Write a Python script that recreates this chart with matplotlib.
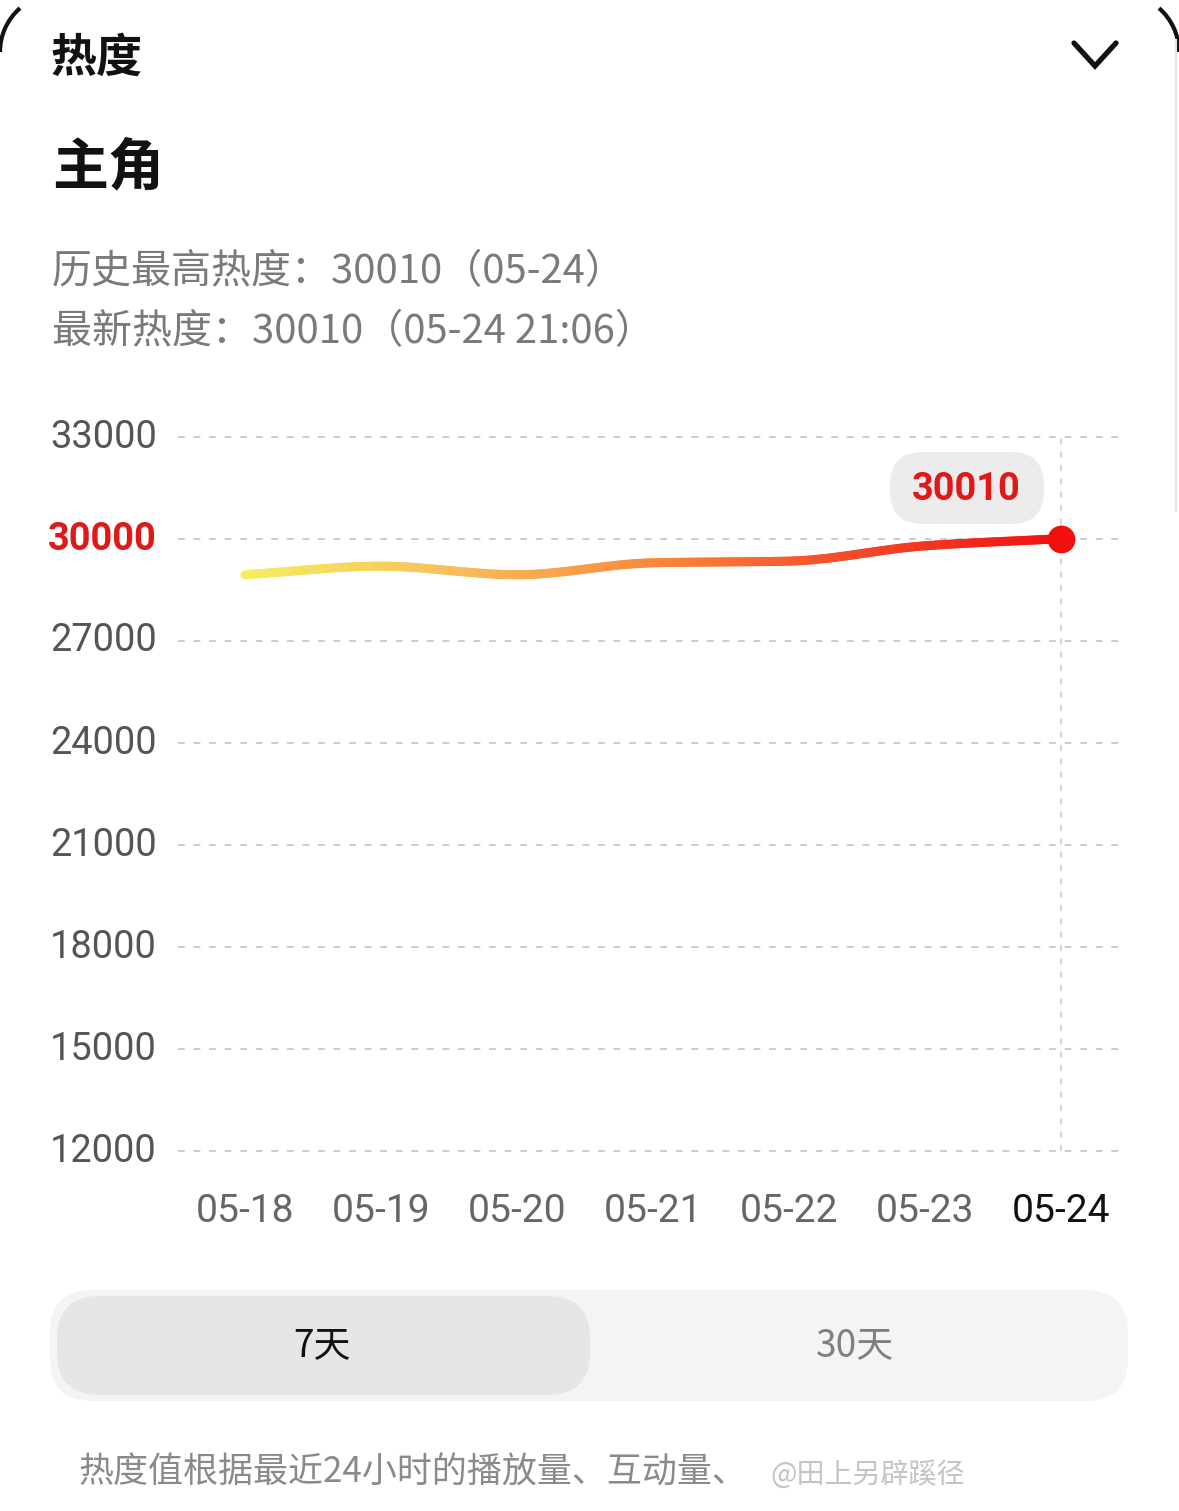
import numpy as np
import matplotlib
matplotlib.use('Agg')
import matplotlib.pyplot as plt
from matplotlib.collections import LineCollection
from matplotlib.colors import LinearSegmentedColormap
from matplotlib.patches import FancyBboxPatch, Arc

plt.rcParams['font.family'] = ['Noto Sans CJK SC', 'DejaVu Sans']

# data
dates = ['05-18', '05-19', '05-20', '05-21', '05-22', '05-23', '05-24']
heat = [28950, 29200, 28950, 29300, 29350, 29800, 30010]
y_ticks = [12000, 15000, 18000, 21000, 24000, 27000, 30000, 33000]
peak_value = 30010

W, H = 1179, 1511
CJK = ['Noto Sans CJK SC', 'DejaVu Sans']
NUM = ['Roboto', 'DejaVu Sans']


def fx(x):
    return x / W


def fy(y):
    return 1 - y / H


def pt(px):
    return px * 0.72


def monotone_curve(xs, ys, n=40):
    # Fritsch-Carlson monotone cubic, only for drawing a smooth line
    xs = np.asarray(xs, float)
    ys = np.asarray(ys, float)
    h = np.diff(xs)
    d = np.diff(ys) / h
    m = np.zeros_like(ys)
    m[0], m[-1] = d[0], d[-1]
    for i in range(1, len(ys) - 1):
        if d[i - 1] * d[i] > 0:
            m[i] = 2 / (1 / d[i - 1] + 1 / d[i])
    out_x, out_y = [], []
    for i in range(len(h)):
        t = np.linspace(0, 1, n, endpoint=False)
        h00 = 2 * t**3 - 3 * t**2 + 1
        h10 = t**3 - 2 * t**2 + t
        h01 = -2 * t**3 + 3 * t**2
        h11 = t**3 - t**2
        out_x.append(xs[i] + t * h[i])
        out_y.append(h00 * ys[i] + h10 * h[i] * m[i] + h01 * ys[i + 1] + h11 * h[i] * m[i + 1])
    out_x.append([xs[-1]])
    out_y.append([ys[-1]])
    return np.concatenate(out_x), np.concatenate(out_y)


fig = plt.figure(figsize=(W / 100, H / 100), dpi=100)
fig.patch.set_facecolor('white')

# phone card corners
for cx, t1, t2 in [(58, 138, 180), (W - 58, 0, 42)]:
    fig.patches.append(Arc((fx(cx), fy(52)), 116 / W, 116 / H, theta1=t1, theta2=t2,
                           transform=fig.transFigure, color='#111111', lw=3))
fig.lines.append(plt.Line2D([fx(1176), fx(1176)], [fy(40), fy(510)], transform=fig.transFigure,
                            color='#e4e4e4', lw=1.5))

# header
fig.text(fx(50), fy(58), '热度', fontsize=pt(46), fontweight='bold', color='#111111',
         family=CJK, va='center', ha='left')
fig.lines.append(plt.Line2D([fx(1074), fx(1095), fx(1116)], [fy(43), fy(66), fy(43)],
                            transform=fig.transFigure, color='#111111', lw=3.8,
                            solid_capstyle='round', solid_joinstyle='miter'))
fig.text(fx(52), fy(168), '主角', fontsize=pt(56), fontweight='bold', color='#111111',
         family=CJK, va='center', ha='left')
fig.text(fx(52), fy(272), f'历史最高热度：{peak_value}（{dates[-1]}）', fontsize=pt(40),
         color='#7a7a7a', family=CJK, va='center', ha='left')
fig.text(fx(52), fy(332), f'最新热度：{peak_value}（{dates[-1]} 21:06）', fontsize=pt(40),
         color='#7a7a7a', family=CJK, va='center', ha='left')

# chart
ax = fig.add_axes([fx(178), fy(1151), (1125 - 178) / W, (1151 - 437) / H])
x = np.arange(len(dates))
x0 = (178 - 245) / 136
x1 = (1125 - 245) / 136
ax.set_xlim(x0, x1)
ax.set_ylim(y_ticks[0], y_ticks[-1])
for s in ax.spines.values():
    s.set_visible(False)
ax.set_xticks(x)
ax.set_yticks(y_ticks)
ax.tick_params(length=0)
ax.set_xticklabels([])
ax.set_yticklabels([])
for yv in y_ticks:
    ax.axhline(yv, color='#cccccc', lw=1.4, dashes=(3.5, 4.5), zorder=1, clip_on=False)
ax.axvline(x[-1], color='#cccccc', lw=1.2, dashes=(3.5, 4.5), zorder=1)

sx, sy = monotone_curve(x, heat)
pts = np.column_stack([sx, sy]).reshape(-1, 1, 2)
segs = np.concatenate([pts[:-1], pts[1:]], axis=1)
cmap = LinearSegmentedColormap.from_list('heat', ['#f6ee5e', '#f8c05a', '#f98a3c', '#f44a28', '#f01212'])
lc = LineCollection(segs, cmap=cmap, linewidth=6.5, capstyle='round', zorder=3)
lc.set_array((sx[:-1] - x[0]) / (x[-1] - x[0]))
ax.add_collection(lc)
ax.plot(x[-1], heat[-1], 'o', ms=19, color='#f01010', zorder=4)

# value badge
fig.patches.append(FancyBboxPatch((fx(890), fy(524)), (1044 - 890) / W, (524 - 452) / H,
                                  boxstyle='round,pad=0,rounding_size=0.028',
                                  transform=fig.transFigure, facecolor='#ececec',
                                  edgecolor='none', mutation_aspect=W / H))
fig.text(fx(966), fy(489), str(peak_value), fontsize=pt(38), fontweight='bold',
         color='#e01818', family=NUM, ha='center', va='center')

# axis labels in screen positions
for yv in y_ticks:
    ypx = 1151 - (yv - y_ticks[0]) / 3000 * 102
    red = yv == 30000
    fig.text(fx(157), fy(ypx), str(yv), fontsize=pt(38), color='#e01818' if red else '#555555',
             fontweight='bold' if red else 'normal', family=NUM, ha='right', va='center')
for i, d in enumerate(dates):
    xpx = 245 + i * 136
    last = i == len(dates) - 1
    fig.text(fx(xpx), fy(1211), d, fontsize=pt(39), color='#111111' if last else '#666666',
             family=NUM, ha='center', va='center')

# range toggle
fig.patches.append(FancyBboxPatch((fx(50), fy(1401)), (1128 - 50) / W, (1401 - 1290) / H,
                                  boxstyle='round,pad=0,rounding_size=0.036',
                                  transform=fig.transFigure, facecolor='#f4f4f4',
                                  edgecolor='none', mutation_aspect=W / H))
fig.patches.append(FancyBboxPatch((fx(57), fy(1395)), (590 - 57) / W, (1395 - 1296) / H,
                                  boxstyle='round,pad=0,rounding_size=0.036',
                                  transform=fig.transFigure, facecolor='#e6e6e6',
                                  edgecolor='none', mutation_aspect=W / H))
fig.text(fx(322), fy(1346), '7天', fontsize=pt(37), color='#111111', family=CJK,
         ha='center', va='center')
fig.text(fx(855), fy(1346), '30天', fontsize=pt(37), color='#808080', family=CJK,
         ha='center', va='center')

fig.text(fx(78), fy(1473), '热度值根据最近24小时的播放量、互动量、', fontsize=pt(35),
         color='#8a8a8a', family=CJK, ha='left', va='center')
fig.text(fx(770), fy(1475), '@田上另辟蹊径', fontsize=pt(28), color='#c4c4c4',
         family=CJK, ha='left', va='center')

fig.savefig('out.png', dpi=100)
